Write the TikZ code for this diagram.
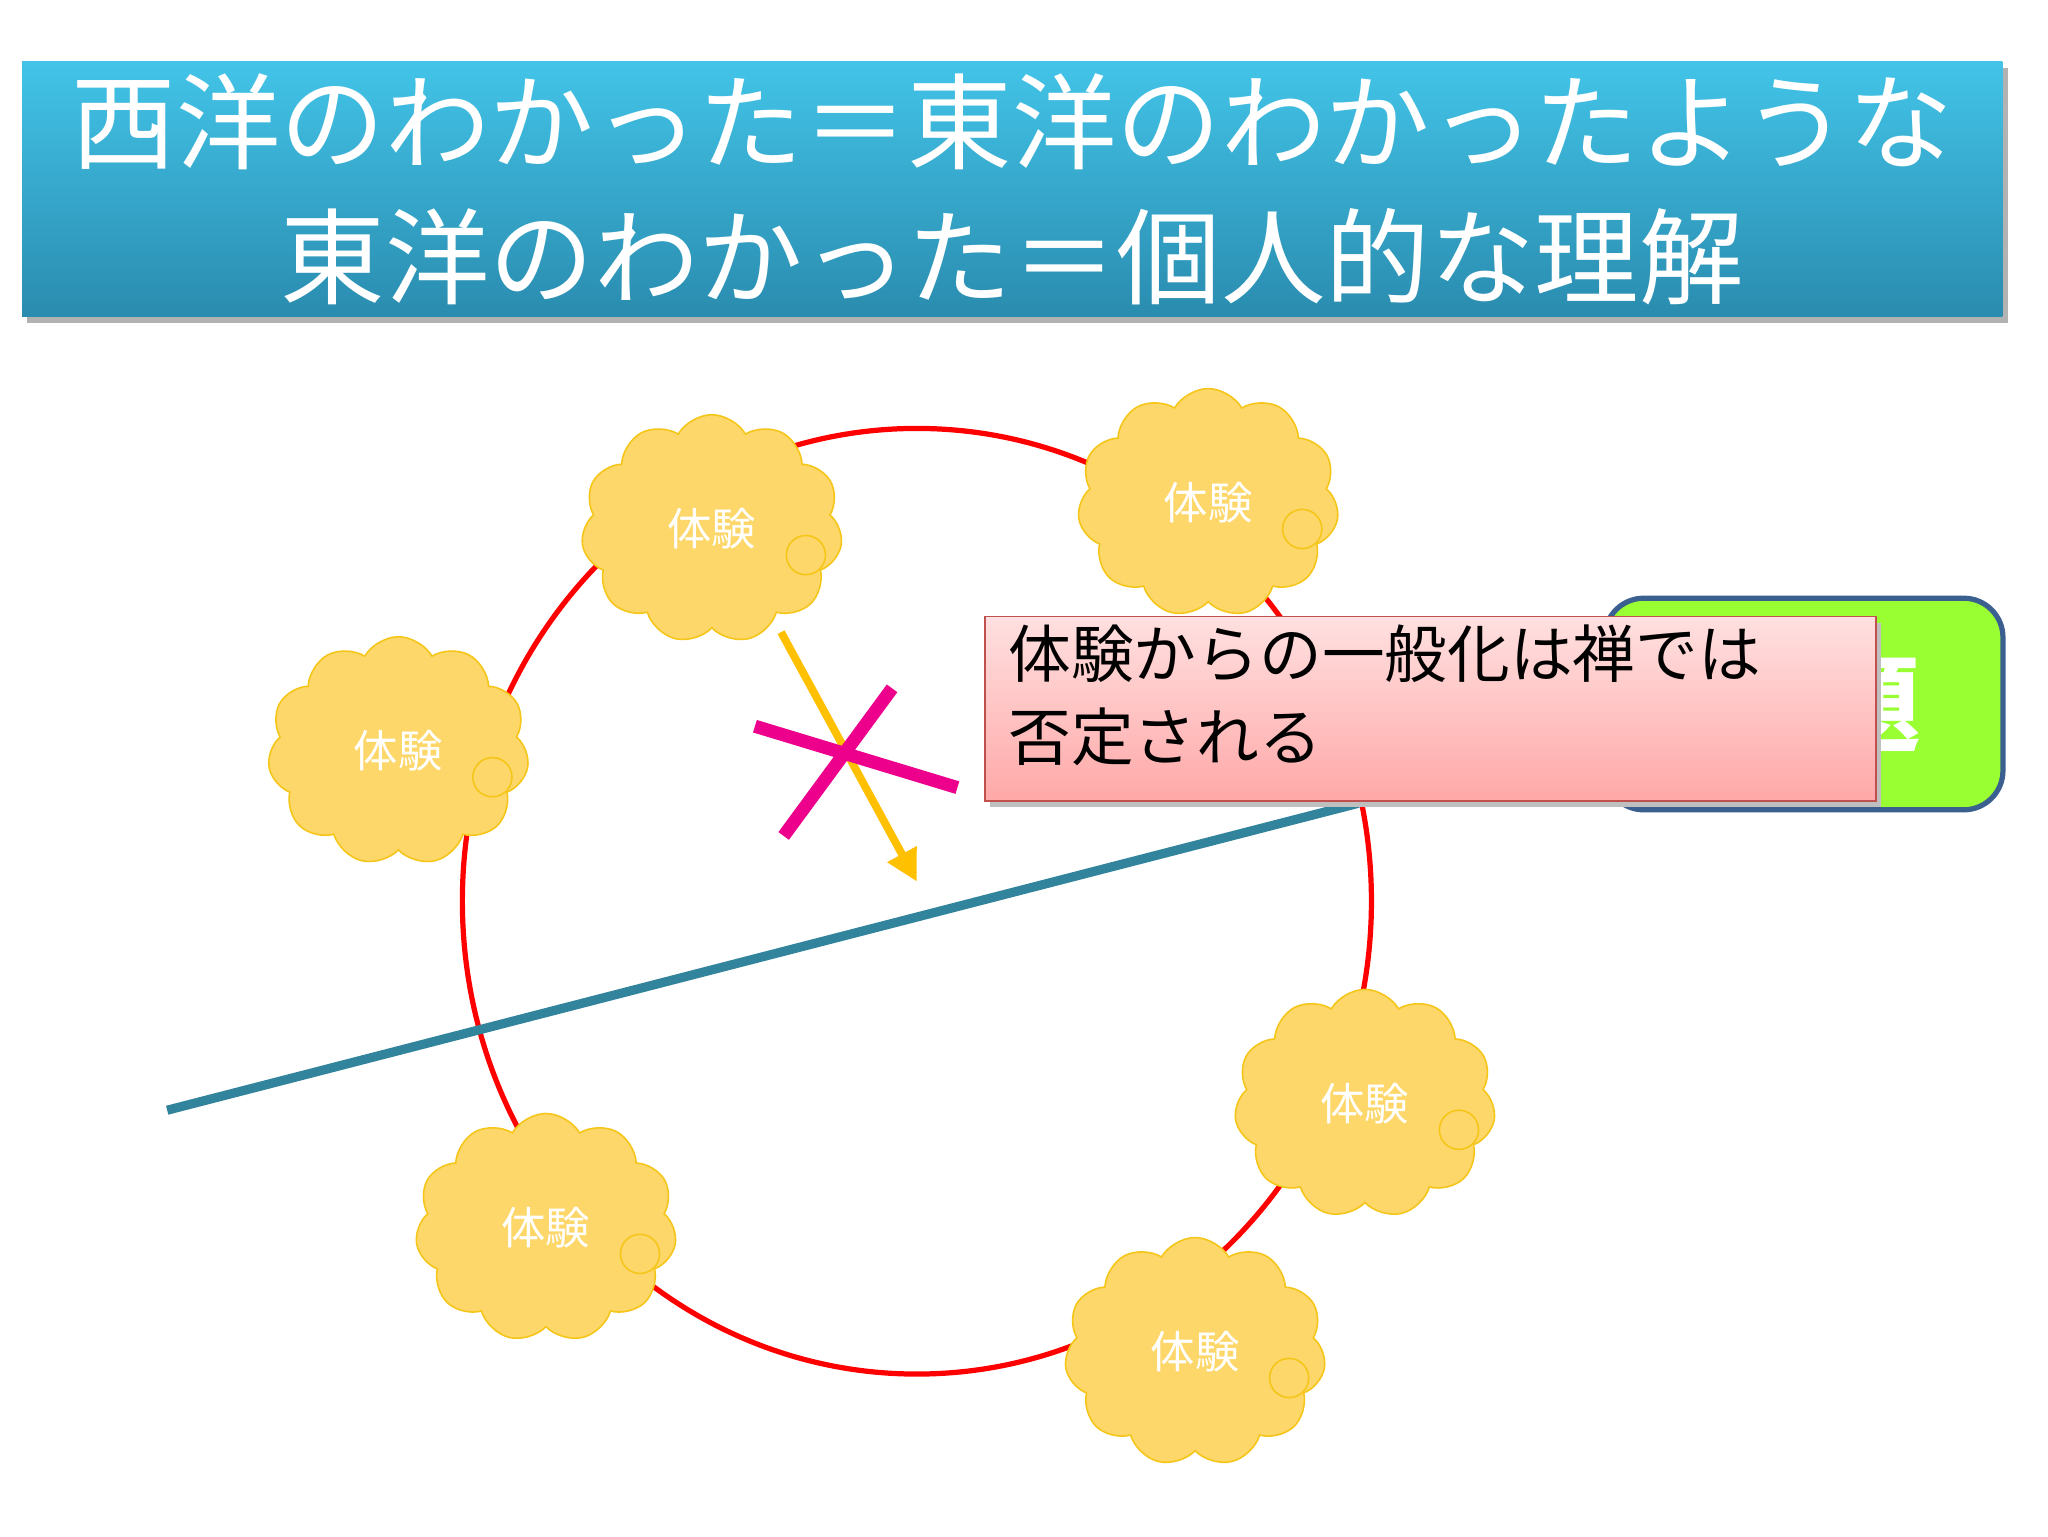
\documentclass[tikz,border=0pt]{standalone}
\usepackage{fontspec}
\setmainfont{Noto Sans CJK JP}
\usetikzlibrary{shapes.symbols,arrows.meta,shadows}
\definecolor{teal1}{HTML}{31849B}
\definecolor{cloudf}{HTML}{FDD769}
\definecolor{cloudd}{HTML}{F5C518}
\definecolor{titletop}{RGB}{66,196,232}
\definecolor{titlebot}{RGB}{42,140,175}
\definecolor{orng}{RGB}{255,192,0}
\definecolor{gbord}{RGB}{59,95,143}
\definecolor{gfill}{RGB}{153,255,51}
\definecolor{ptop}{RGB}{255,224,224}
\definecolor{pbot}{RGB}{255,168,168}
\definecolor{pbord}{RGB}{192,80,77}
\tikzset{
 cl/.style={cloud,cloud puffs=11,cloud puff arc=120,aspect=1.15,minimum width=200pt,minimum height=175pt,fill=cloudf,draw=cloudd,line width=1.2pt,text=white,font=\fontsize{34pt}{36pt}\selectfont,inner sep=0pt},
 puff/.style={circle,draw=cloudd,line width=1.2pt,minimum size=30pt,inner sep=0pt}
}
\begin{document}
\begin{tikzpicture}[x=1pt,y=-1pt]
\useasboundingbox (0,0) rectangle (1568,1176);
\fill[white] (0,0) rectangle (1568,1176);
% title
\fill[black!30] (21,52) rectangle (1537,247);
\shade[top color=titletop,bottom color=titlebot] (17,47) rectangle (1533,242);
\node[text=white,font=\fontsize{80pt}{104pt}\selectfont,align=center] (title) at (775,145) {西洋のわかった＝東洋のわかったような\\東洋のわかった＝個人的な理解};
% circle
\draw[red,line width=4pt] (702,690) ellipse [x radius=348,y radius=362];
% clouds
\foreach \n/\x/\y in {c1/545/405,c2/925/385,c3/305/575,c4/1045/845,c5/418/940,c6/915/1035}{
 \node[cl] (\n) at (\x,\y) {体験};
 \node[puff] at (\x+72,\y+20) {};
}
% teal line
\coordinate (la) at (128,850); \coordinate (lb) at (1040,615);
\draw[teal1,line width=7pt] (la) -- (lb);
% arrow
\coordinate (aa) at (598,484); \coordinate (ab) at (702,675);
\draw[orng,line width=6pt,-{Triangle[length=24pt,width=24pt]}] (aa) -- (ab);
% X
\coordinate (x1) at (578,556); \coordinate (x2) at (733,603);
\coordinate (x3) at (600,640); \coordinate (x4) at (683,527);
\draw[magenta,line width=10pt] (x1) -- (x2);
\draw[magenta,line width=10pt] (x3) -- (x4);
% green box
\node[draw=gbord,line width=4pt,fill=gfill,rounded corners=30pt,minimum width=305pt,minimum height=162pt,text=white,font=\bfseries\fontsize{80pt}{80pt}\selectfont] (green) at (1381,539) {\hspace*{20pt}命題};
% pink box
\fill[black!25] (758,477) rectangle (1440,618);
\shade[top color=ptop,bottom color=pbot] (754,472) rectangle (1436,613);
\draw[pbord,line width=1.5pt] (754,472) rectangle (1436,613);
\node[anchor=north west,align=left,font=\fontsize{48pt}{64pt}\selectfont,inner sep=0pt] (pink) at (772,478) {体験からの一般化は禅では\\否定される};
\end{tikzpicture}
\end{document}
